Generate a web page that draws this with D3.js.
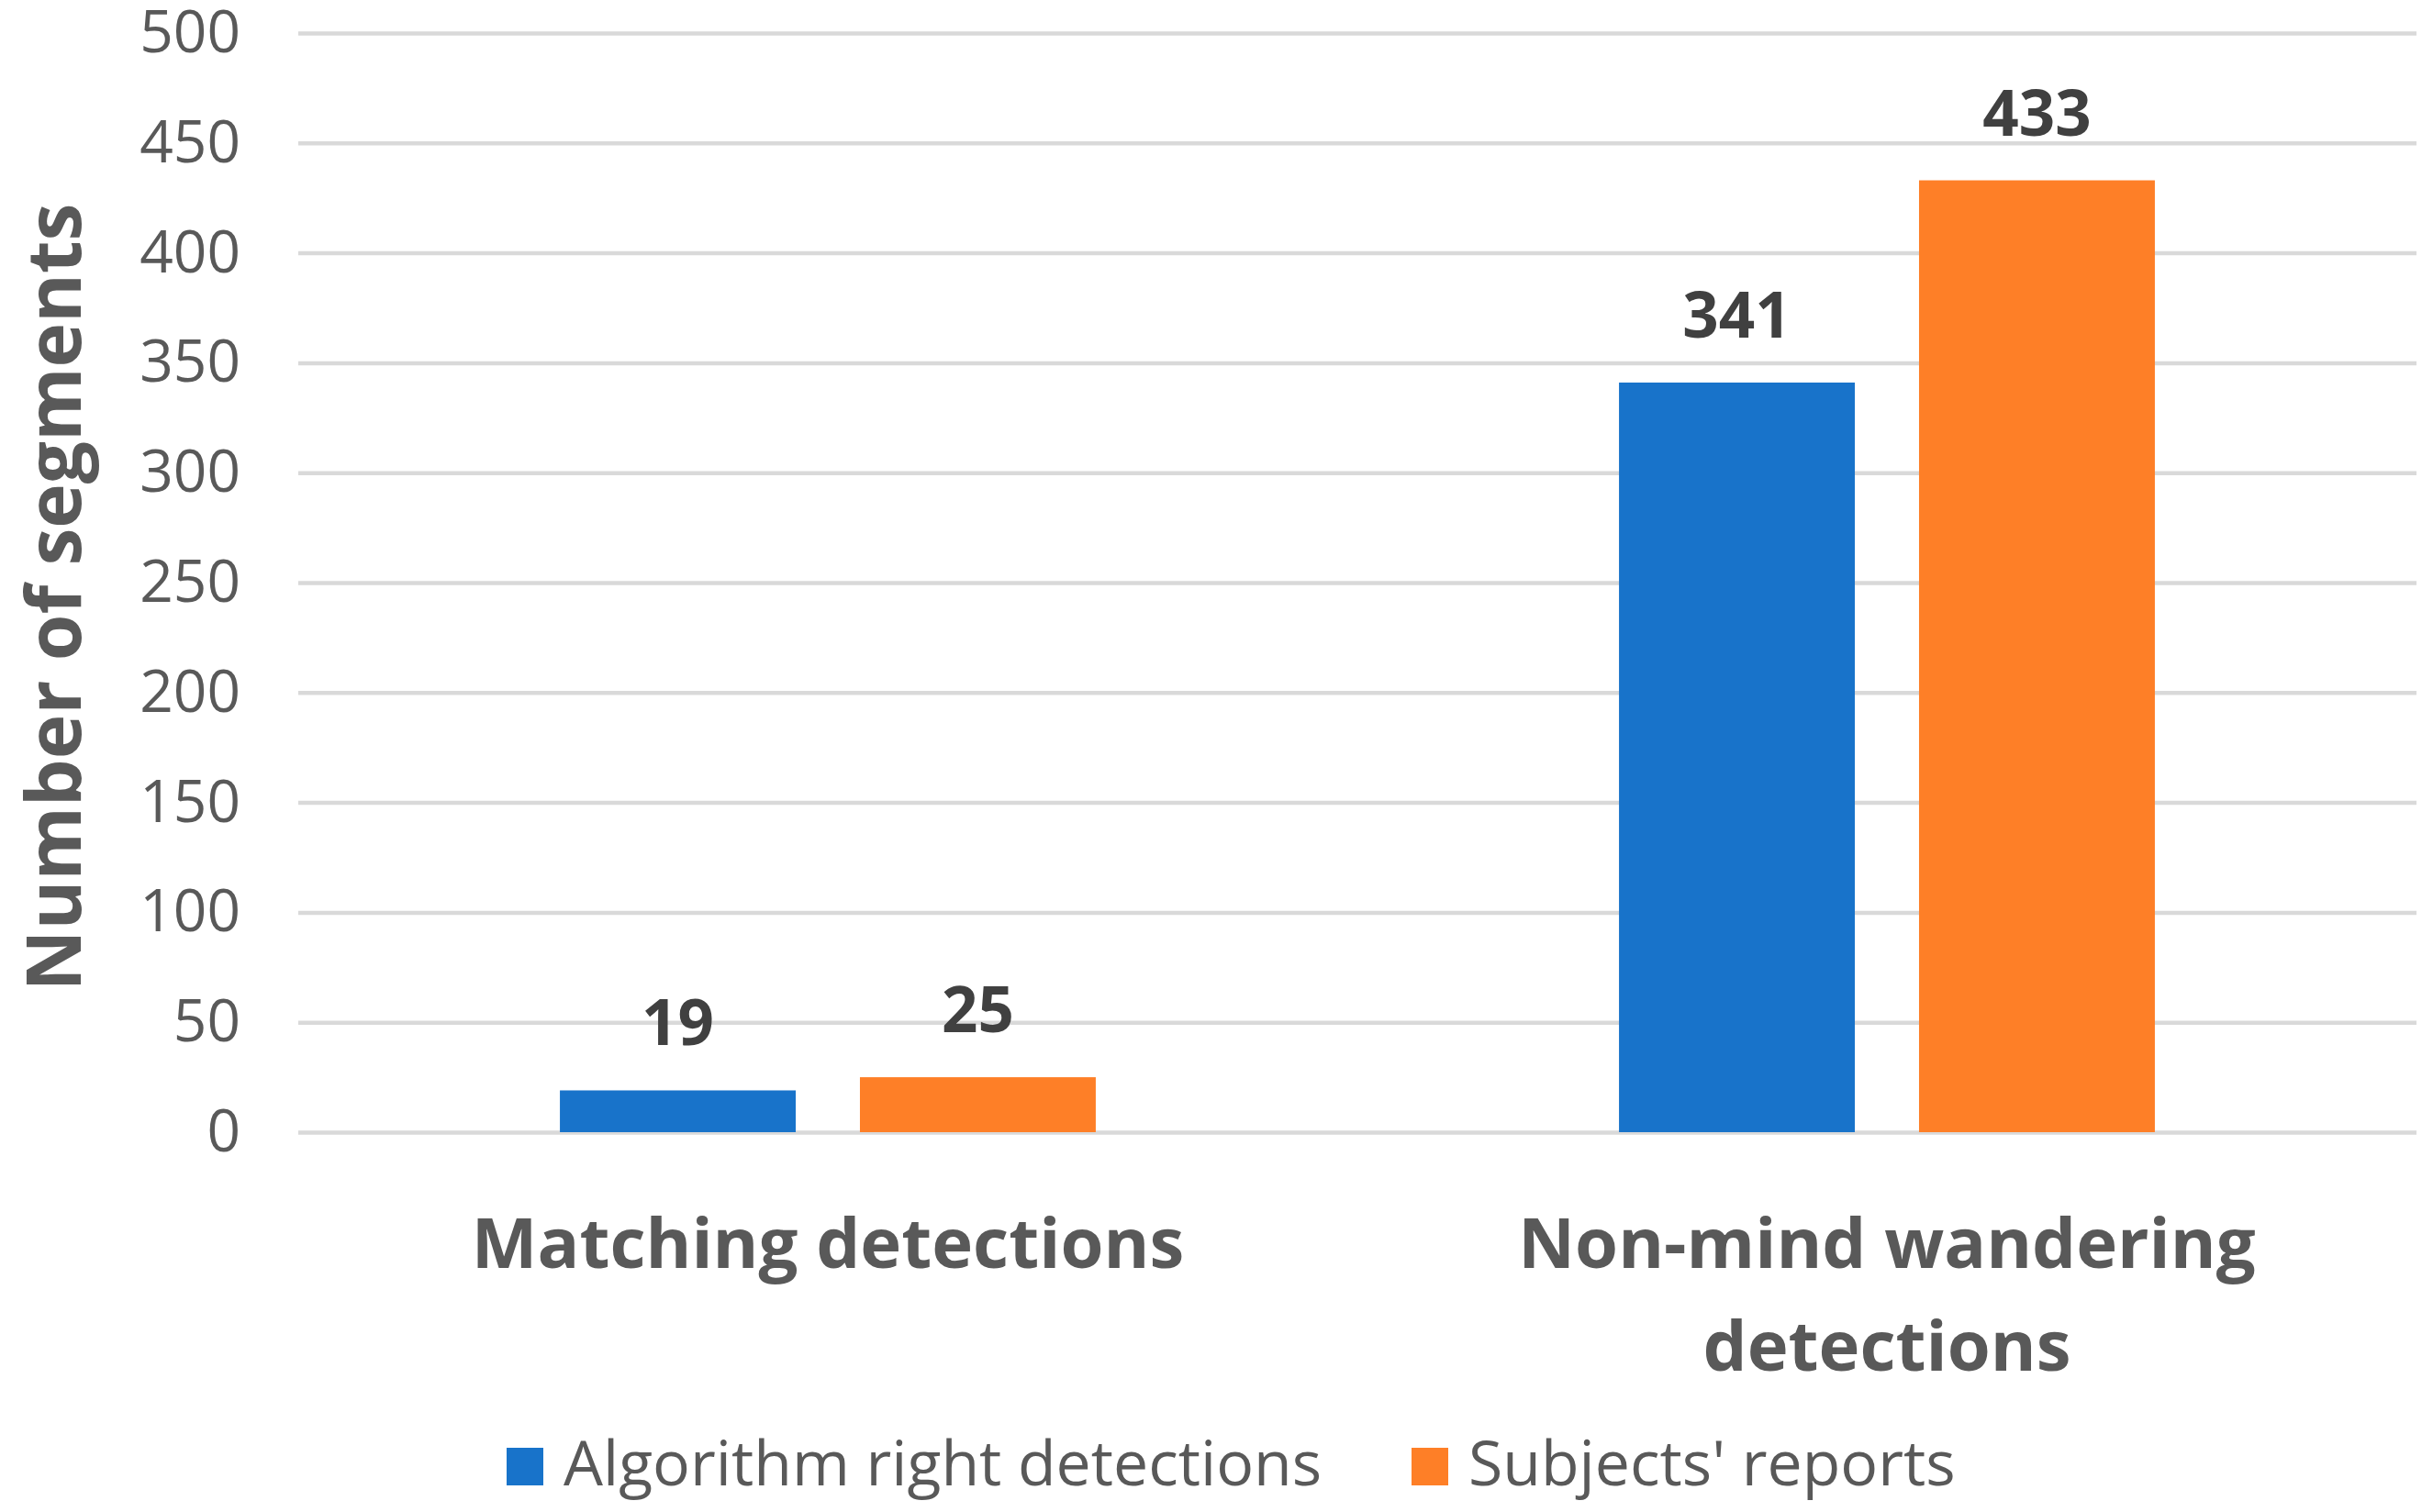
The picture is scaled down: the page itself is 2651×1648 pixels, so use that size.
<!DOCTYPE html>
<html>
<head>
<meta charset="utf-8">
<script src="https://cdn.jsdelivr.net/npm/d3@7"></script>
<style>
  html, body { margin: 0; padding: 0; background: #ffffff; }
  svg { display: block; }
  text { font-family: "Open Sans", "Noto Sans", sans-serif; }
</style>
</head>
<body>
<svg id="chart" width="2651" height="1648"></svg>
<script>
const categories = [["Matching detections"], ["Non-mind wandering", "detections"]];
const categoryKeys = ["Matching detections", "Non-mind wandering detections"];
const seriesNames = ["Algorithm right detections", "Subjects' reports"];
const algorithmValues = [19, 341];
const subjectValues = [25, 433];
const yTicks = [0, 50, 100, 150, 200, 250, 300, 350, 400, 450, 500];
const yTitle = "Number of segments";
const colors = ["#1873CA", "#FE7F27"];

const svg = d3.select("#chart");
const plot = { left: 325, right: 2633, top: 36, bottom: 1234 };

const x0 = d3.scaleBand().domain(categoryKeys).range([plot.left, plot.right]).paddingInner(0).paddingOuter(0);
const x1 = d3.scaleBand().domain(seriesNames).range([0, x0.bandwidth()]).paddingInner(0.214).paddingOuter(0.872);
const y = d3.scaleLinear().domain([0, 500]).range([plot.bottom, plot.top]);
const color = d3.scaleOrdinal().domain(seriesNames).range(colors);

// gridlines
const grid = d3.axisLeft(y).tickValues(yTicks).tickSize(-(plot.right - plot.left)).tickFormat("");
const gg = svg.append("g").attr("transform", `translate(${plot.left},0)`).call(grid);
gg.select(".domain").remove();
gg.selectAll(".tick line").attr("stroke", "#D9D9D9").attr("stroke-width", 4.5);

// y tick labels
const yAxis = d3.axisLeft(y).tickValues(yTicks).tickSize(0).tickPadding(63);
const ya = svg.append("g").attr("transform", `translate(${plot.left},0)`).call(yAxis);
ya.select(".domain").remove();
ya.selectAll(".tick text")
  .attr("font-family", "Open Sans")
  .attr("font-size", 64)
  .attr("fill", "#595959");

// bars
const rows = categoryKeys.map((c, i) => ({ cat: c, values: [algorithmValues[i], subjectValues[i]] }));
const groups = svg.append("g").selectAll("g").data(rows).join("g")
  .attr("transform", d => `translate(${x0(d.cat)},0)`);

groups.selectAll("rect").data(d => d.values.map((v, j) => ({ s: seriesNames[j], v })))
  .join("rect")
  .attr("x", d => x1(d.s))
  .attr("width", x1.bandwidth())
  .attr("y", d => y(d.v))
  .attr("height", d => y(0) - y(d.v))
  .attr("fill", d => color(d.s));

groups.selectAll("text.lbl").data(d => d.values.map((v, j) => ({ s: seriesNames[j], v })))
  .join("text")
  .attr("class", "lbl")
  .attr("x", d => x1(d.s) + x1.bandwidth() / 2)
  .attr("y", d => y(d.v) - 49)
  .attr("text-anchor", "middle")
  .attr("font-size", 69)
  .attr("font-weight", 700)
  .attr("fill", "#404040")
  .text(d => d.v);

// category labels
categoryKeys.forEach((c, i) => {
  const t = svg.append("text")
    .attr("x", x0(c) + x0.bandwidth() / 2)
    .attr("y", 1382)
    .attr("text-anchor", "middle")
    .attr("font-size", 76)
    .attr("font-weight", 700)
    .attr("fill", "#595959");
  categories[i].forEach((line, k) => {
    t.append("tspan").attr("x", x0(c) + x0.bandwidth() / 2).attr("dy", k === 0 ? 0 : 112).text(line);
  });
});

// y axis title
svg.append("text")
  .attr("transform", `translate(88,${(plot.top + plot.bottom) / 2 + 16}) rotate(-90)`)
  .attr("text-anchor", "middle")
  .attr("font-size", 82)
  .attr("font-weight", 700)
  .attr("fill", "#595959")
  .text(yTitle);

// legend
const legendX = [552, 1538];
seriesNames.forEach((s, i) => {
  const g = svg.append("g").attr("transform", `translate(${legendX[i]},0)`);
  g.append("rect").attr("x", 0).attr("y", 1578).attr("width", 40).attr("height", 41).attr("fill", color(s));
  g.append("text").attr("x", 62).attr("y", 1619)
    .attr("font-size", 68).attr("fill", "#595959").text(s);
});
</script>
</body>
</html>
